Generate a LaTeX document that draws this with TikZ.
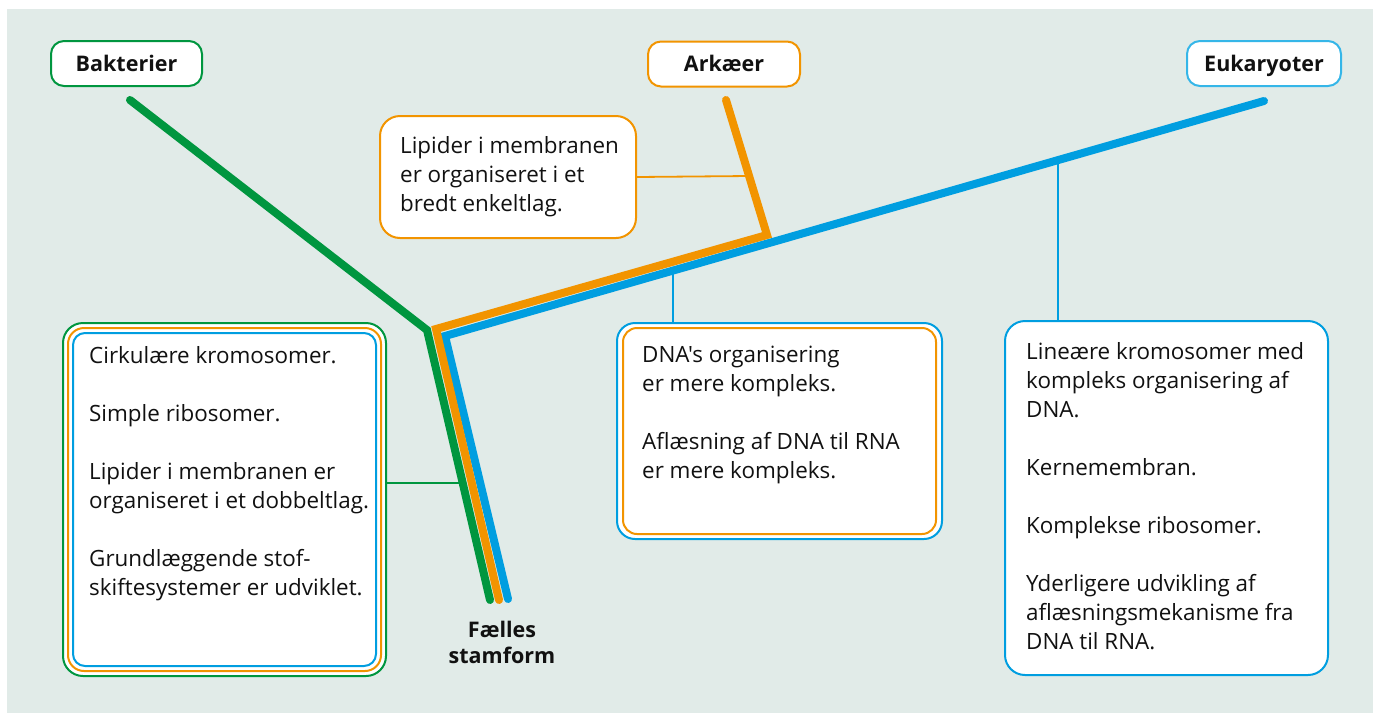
\documentclass[tikz,border=0pt]{standalone}
\usepackage{fontspec}
\setmainfont{Open Sans}[Ligatures=TeXOff]
\usetikzlibrary{calc}
\definecolor{bgc}{HTML}{E1EBE8}
\definecolor{grn}{HTML}{00963F}
\definecolor{org}{HTML}{F29400}
\definecolor{blu}{HTML}{009EE0}
\definecolor{lblu}{HTML}{35B6E8}
\definecolor{txtc}{HTML}{111111}
\begin{document}
\begin{tikzpicture}[x=1pt,y=-1pt,line join=miter,
  lblbox/.style={draw,fill=white,line width=2pt,rounded corners=13pt,inner sep=0pt,
    minimum height=45pt,text height=15pt,text depth=0pt,text=txtc,font=\fontsize{21.5}{25}\selectfont\bfseries},
  infobox/.style={draw,fill=white,line width=2pt,inner sep=0pt,anchor=north west},
  txt/.style={anchor=base west,inner sep=0pt,text=txtc,font=\fontsize{22.4}{29}\selectfont},
  thin/.style={line width=1.8pt},
  branch/.style={line width=8pt,line cap=round,line join=miter}]
\useasboundingbox (0,0) rectangle (1373,713);
\fill[bgc] (7,9) rectangle (1373,713);

% labels
\node[lblbox,draw=grn,minimum width=151pt] (bak) at (126.5,63.5) {Bakterier};
\node[lblbox,draw=org,minimum width=152pt] (ark) at (724,64) {Arkæer};
\node[lblbox,draw=lblu,minimum width=154pt] (euk) at (1264,63.5) {Eukaryoter};

% left nested box
\node[infobox,draw=grn,minimum width=323pt,minimum height=353pt,rounded corners=20pt] (lboxg) at (62,322) {};
\node[infobox,draw=org,minimum width=313pt,minimum height=343pt,rounded corners=16pt] (lboxo) at (67,327) {};
\node[infobox,draw=blu,minimum width=303pt,minimum height=333pt,rounded corners=12pt] (lboxb) at (72,332) {};
\node[txt] (ltxt) at (89,363) {\parbox[t]{295pt}{\raggedright
Cirkulære kromosomer.\\[29pt]
Simple ribosomer.\\[29pt]
Lipider i membranen er\\
organiseret i et dobbeltlag.\\[29pt]
Grundlæggende stof-\\
skiftesystemer er udviklet.}};

% lipid box (archaea)
\node[infobox,draw=org,minimum width=256pt,minimum height=122pt,rounded corners=20pt] (lip) at (379,115) {};
\node[txt] (liptxt) at (400,153) {\parbox[t]{230pt}{\raggedright
Lipider i membranen\\
er organiseret i et\\
bredt enkeltlag.}};

% middle box
\node[infobox,draw=blu,minimum width=325pt,minimum height=216pt,rounded corners=18pt] (mboxb) at (616,322) {};
\node[infobox,draw=org,minimum width=313pt,minimum height=206pt,rounded corners=14pt] (mboxo) at (622,327) {};
\node[txt] (mtxt) at (642,362) {\parbox[t]{290pt}{\raggedright
DNA's organisering\\
er mere kompleks.\\[29pt]
Aflæsning af DNA til RNA\\
er mere kompleks.}};

% right box
\node[infobox,draw=blu,minimum width=323pt,minimum height=354pt,rounded corners=20pt] (rbox) at (1004,320) {};
\node[txt] (rtxt) at (1026,359) {\parbox[t]{298pt}{\raggedright
Lineære kromosomer med\\
kompleks organisering af\\
DNA.\\[29pt]
Kernemembran.\\[29pt]
Komplekse ribosomer.\\[29pt]
Yderligere udvikling af\\
aflæsningsmekanisme fra\\
DNA til RNA.}};

% root label
\node[anchor=base,inner sep=0pt,text=txtc,font=\fontsize{21.5}{26}\selectfont\bfseries] (root) at (502,637)
  {\parbox[t]{200pt}{\centering Fælles\\stamform}};

% branch coordinates
\coordinate (gA) at (130,100); \coordinate (gB) at (427,330); \coordinate (gC) at (490,600);
\coordinate (oA) at (726,100); \coordinate (oB) at (767,235); \coordinate (oC) at (436,329); \coordinate (oD) at (499,600);
\coordinate (bA) at (1264,101); \coordinate (bB) at (445,336); \coordinate (bC) at (508,599);
\coordinate (gK) at (462.7,483);
\coordinate (oK) at (749,176);
\coordinate (bK1) at (673,270.6);
\coordinate (bK2) at (1058,160.1);

% thin connectors
\draw[thin,grn] (gK) -- (gK -| lboxg.east);
\draw[thin,org] (oK) -- (lip.east);
\draw[thin,blu] (bK1) -- (bK1 |- mboxb.north);
\draw[thin,blu] (bK2) -- (bK2 |- rbox.north);

% branches
\draw[branch,blu] (bA) -- (bB) -- (bC);
\draw[branch,org] (oA) -- (oB) -- (oC) -- (oD);
\draw[branch,grn] (gA) -- (gB) -- (gC);
\end{tikzpicture}
\end{document}
